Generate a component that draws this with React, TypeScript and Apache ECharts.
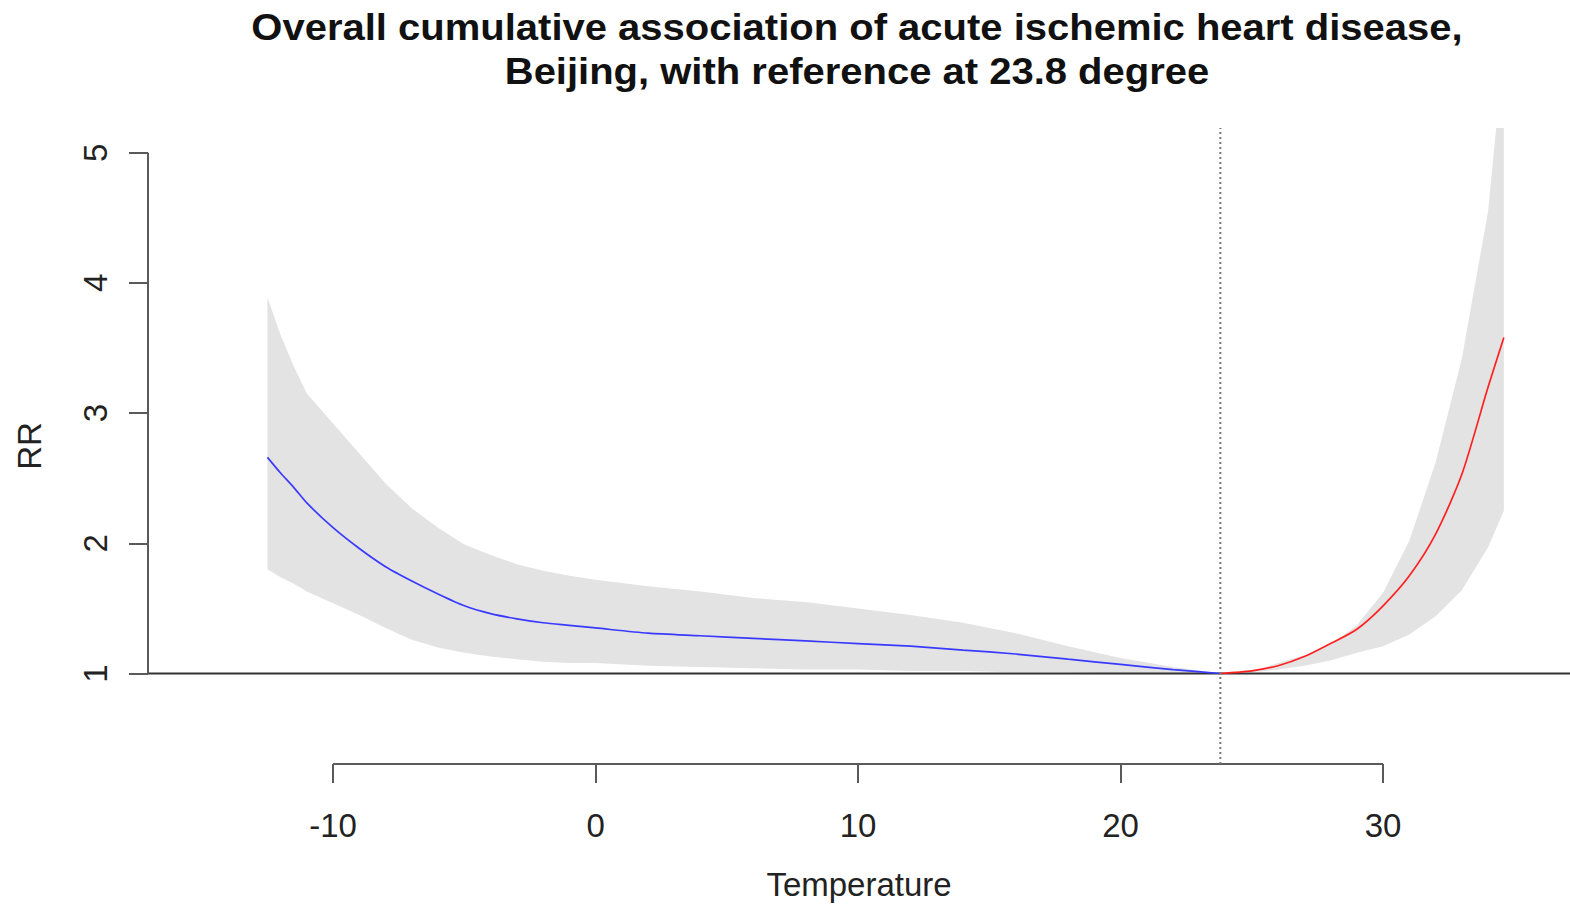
import React, { useEffect, useRef } from "react";
import * as echarts from "echarts";

// ---- data ----
const temps = [-12.5, -12, -11.5, -11, -10, -9, -8, -7, -6, -5, -4, -3, -2, -1, 0, 2, 4, 6, 8, 10, 12, 14, 16, 18, 20, 22, 23.8, 25, 26, 27, 28, 29, 30, 31, 32, 33, 34, 34.6];
const rr = [2.66, 2.54, 2.43, 2.31, 2.12, 1.96, 1.82, 1.71, 1.61, 1.52, 1.46, 1.42, 1.39, 1.37, 1.35, 1.31, 1.29, 1.27, 1.25, 1.23, 1.21, 1.18, 1.15, 1.11, 1.07, 1.03, 1.0, 1.02, 1.06, 1.13, 1.23, 1.34, 1.52, 1.75, 2.07, 2.53, 3.2, 3.58];
const upper = [3.89, 3.6, 3.36, 3.15, 2.92, 2.69, 2.46, 2.27, 2.12, 1.99, 1.91, 1.84, 1.79, 1.75, 1.72, 1.67, 1.63, 1.58, 1.55, 1.5, 1.45, 1.39, 1.31, 1.21, 1.12, 1.05, 1.0, 1.02, 1.08, 1.14, 1.22, 1.37, 1.62, 2.02, 2.62, 3.42, 4.55, 5.8];
const lower = [1.8, 1.74, 1.69, 1.63, 1.54, 1.45, 1.35, 1.26, 1.2, 1.16, 1.13, 1.11, 1.09, 1.08, 1.08, 1.06, 1.05, 1.04, 1.03, 1.03, 1.02, 1.02, 1.01, 1.01, 1.0, 1.0, 1.0, 1.01, 1.03, 1.06, 1.1, 1.16, 1.21, 1.3, 1.44, 1.64, 1.97, 2.25];
const refTemp = 23.8;
const xTicks = [-10, 0, 10, 20, 30];
const yTicks = [1, 2, 3, 4, 5];
const titleLines = [
  "Overall cumulative association of acute ischemic heart disease,",
  "Beijing, with reference at 23.8 degree",
];

// axis ranges (R-style plot region)
const X_MIN = -17.05;
const X_MAX = 37.12;
const Y_MIN = 0.305;
const Y_MAX = 5.19;

export default function App() {
  const ref = useRef<HTMLDivElement>(null);
  useEffect(() => {
    if (!ref.current) return;
    const chart = echarts.init(ref.current, null, { renderer: "svg" });
    const font = "'Liberation Sans', Arial, sans-serif";
    const idx = temps.map((_, i) => i);
    const coldIdx = idx.filter((i) => temps[i] <= refTemp);
    const hotIdx = idx.filter((i) => temps[i] >= refTemp);
    const axisColor = "#5a5a5a";
    const bandData = idx.map((i) => [temps[i], lower[i], upper[i]]);
    const option: any = {
      animation: false,
      backgroundColor: "#ffffff",
      graphic: titleLines.map((s, i) => ({
        type: "text",
        x: 857,
        y: 27 + i * 44,
        scaleY: 0.92,
        style: {
          text: s,
          fontFamily: font,
          fontWeight: "bold",
          fontSize: 40,
          fill: "#111",
          textAlign: "center",
          textVerticalAlign: "middle",
        },
      })),
      grid: { left: 148, width: 1422, top: 128, height: 640 },
      xAxis: {
        type: "value",
        min: X_MIN,
        max: X_MAX,
        name: "Temperature",
        nameLocation: "middle",
        nameGap: 104,
        nameTextStyle: { fontFamily: font, fontSize: 33, color: "#222" },
        axisLine: { show: false, onZero: false },
        splitLine: { show: false },
        axisTick: {
          show: true,
          customValues: xTicks,
          length: 19,
          lineStyle: { color: axisColor, width: 2 },
        },
        axisLabel: {
          customValues: xTicks,
          margin: 45,
          fontFamily: font,
          fontSize: 33,
          color: "#222",
        },
      },
      yAxis: {
        type: "value",
        min: Y_MIN,
        max: Y_MAX,
        name: "RR",
        nameLocation: "middle",
        nameGap: 102,
        nameRotate: 90,
        nameTextStyle: { fontFamily: font, fontSize: 33, color: "#222" },
        axisLine: { show: false, onZero: false },
        splitLine: { show: false },
        axisTick: {
          show: true,
          customValues: yTicks,
          length: 19,
          lineStyle: { color: axisColor, width: 2 },
        },
        axisLabel: {
          customValues: yTicks,
          rotate: 90,
          margin: 36,
          fontFamily: font,
          fontSize: 33,
          color: "#222",
        },
      },
      series: [
        {
          type: "custom",
          data: [0],
          silent: true,
          renderItem: (params: any, api: any) => {
            const top = bandData.map((d) => api.coord([d[0], d[2]]));
            const bot = bandData.map((d) => api.coord([d[0], d[1]])).reverse();
            const cs = params.coordSys;
            return {
              type: "polygon",
              shape: { points: top.concat(bot) },
              style: { fill: "#e3e3e3", stroke: "none" },
              clipPath: {
                type: "rect",
                shape: { x: cs.x, y: cs.y, width: cs.width, height: cs.height },
              },
            };
          },
          z: 1,
        },
        {
          type: "line",
          data: coldIdx.map((i) => [temps[i], rr[i]]),
          symbol: "none",
          smooth: 0.25,
          lineStyle: { color: "#3a3aff", width: 1.7 },
          z: 3,
        },
        {
          type: "line",
          data: hotIdx.map((i) => [temps[i], rr[i]]),
          symbol: "none",
          smooth: 0.25,
          lineStyle: { color: "#ff2020", width: 1.7 },
          z: 3,
        },
        // reference line at RR = 1 (full plot width)
        {
          type: "line",
          data: [[X_MIN, 1], [X_MAX, 1]],
          symbol: "none",
          clip: false,
          silent: true,
          lineStyle: { color: "#333", width: 2 },
          z: 2,
        },
        // vertical dotted reference temperature
        {
          type: "line",
          data: [[refTemp, Y_MIN], [refTemp, Y_MAX]],
          symbol: "none",
          clip: false,
          silent: true,
          lineStyle: { color: "#777", width: 2, type: [2, 3] },
          z: 4,
        },
        // R-style x axis segment
        {
          type: "line",
          data: [[xTicks[0], Y_MIN], [xTicks[xTicks.length - 1], Y_MIN]],
          symbol: "none",
          clip: false,
          silent: true,
          lineStyle: { color: axisColor, width: 2 },
        },
        // R-style y axis segment
        {
          type: "line",
          data: [[X_MIN, yTicks[0]], [X_MIN, yTicks[yTicks.length - 1]]],
          symbol: "none",
          clip: false,
          silent: true,
          lineStyle: { color: axisColor, width: 2 },
        },
      ],
    };
    chart.setOption(option);
    return () => chart.dispose();
  }, []);
  return (
    <div
      ref={ref}
      style={{ position: "absolute", left: 0, top: 0, width: 1570, height: 906 }}
    />
  );
}
